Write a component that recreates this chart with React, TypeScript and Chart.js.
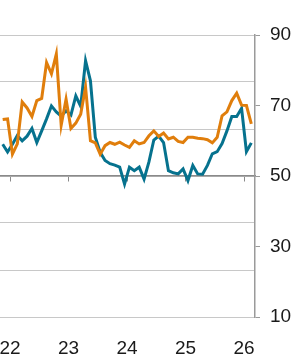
import React, { useEffect, useRef } from "react";
import { Chart, registerables } from "chart.js";

Chart.register(...registerables);

// Monthly series, first point = Nov 2021, last = Feb 2026
const startYear = 2021;
const startMonth = 10; // 0-based month index (November)

const orangeSeries = [
  66, 66.2, 56.2, 59.1, 71, 69.3, 66.9, 71.4, 72, 82.2, 79, 84.6,
  64.4, 71.8, 63.5, 65, 67.5, 75.2, 60, 59.4, 56.2, 58.6, 59.5, 59,
  59.6, 58.8, 58.1, 60, 59.1, 59.5, 61.4, 62.8, 61.2, 62.2, 60.5, 61,
  59.8, 59.5, 61, 61, 60.7, 60.6, 60.3, 59.4, 61, 67.1, 68.2, 71.4,
  73.5, 70.1, 70, 64.8,
];

const tealSeries = [
  59, 56.8, 59, 61.5, 60, 61.3, 63.5, 59.5, 62.8, 66.2, 69.9, 68.2,
  67, 68.5, 67.3, 72.7, 69.8, 82.7, 77, 61, 56.7, 54.4, 53.5, 53.1,
  52.5, 47.7, 52.5, 51.5, 52.5, 49.1, 54, 60.2, 61.3, 59.5, 51.5, 50.9,
  50.6, 52, 48.7, 53, 50.6, 50.5, 53, 56.3, 56.9, 59.2, 62.8, 66.9,
  66.9, 69.2, 56.9, 59.4,
];

const yearTicks = [2022, 2023, 2024, 2025, 2026];
const yLabelTicks = [10, 30, 50, 70, 90];
const gridTicks = [10, 23.333, 36.667, 50, 63.333, 76.667, 90];

const X_MIN = 2021.829;
const X_MAX = 2026.188;

const toX = (i: number) => startYear + (startMonth + i + 0.5) / 12;

export default function App() {
  const ref = useRef<HTMLCanvasElement>(null);

  useEffect(() => {
    if (!ref.current) return;
    const font = { family: "'Liberation Sans', Arial, sans-serif", size: 19 };
    const noPad = (s: any) => {
      s.paddingLeft = 0;
      s.paddingRight = 0;
      s.paddingTop = 0;
      s.paddingBottom = 0;
    };
    const chart = new Chart(ref.current, {
      type: "line",
      data: {
        datasets: [
          {
            data: orangeSeries.map((v, i) => ({ x: toX(i), y: v })),
            borderColor: "#e07e0c",
            borderWidth: 3,
            pointRadius: 0,
            tension: 0,
            xAxisID: "x",
            yAxisID: "y",
          },
          {
            data: tealSeries.map((v, i) => ({ x: toX(i), y: v })),
            borderColor: "#06728e",
            borderWidth: 3,
            pointRadius: 0,
            tension: 0,
            xAxisID: "x",
            yAxisID: "y",
          },
        ],
      },
      options: {
        animation: false,
        responsive: true,
        maintainAspectRatio: false,
        layout: { padding: { top: 35, left: 0, right: 0, bottom: 0 } },
        plugins: { legend: { display: false }, tooltip: { enabled: false } },
        scales: {
          x: {
            type: "linear",
            position: "bottom",
            min: X_MIN,
            max: X_MAX,
            afterBuildTicks: (s: any) => {
              s.ticks = yearTicks.map((v) => ({ value: v }));
            },
            afterFit: (s: any) => {
              s.height = 39;
              noPad(s);
            },
            grid: { display: false },
            border: { display: false },
            ticks: {
              font,
              color: "#1a1a1a",
              padding: 12,
              maxRotation: 0,
              autoSkip: false,
              callback: (v: any) => String(v).slice(2),
            },
          },
          xLine: {
            type: "linear",
            position: { y: 50 } as any,
            min: X_MIN,
            max: X_MAX,
            afterBuildTicks: (s: any) => {
              s.ticks = yearTicks.map((v) => ({ value: v }));
            },
            afterFit: noPad,
            grid: {
              display: true,
              drawOnChartArea: false,
              drawTicks: true,
              tickLength: 5,
              color: "#8a8a8a",
            },
            border: { display: true, color: "#8a8a8a", width: 1.5 },
            ticks: { display: false },
          },
          yGrid: {
            type: "linear",
            position: "left",
            min: 10,
            max: 90,
            afterBuildTicks: (s: any) => {
              s.ticks = gridTicks.map((v) => ({ value: v }));
            },
            afterFit: (s: any) => {
              s.width = 0;
              noPad(s);
            },
            grid: { color: "#c8c8c8", lineWidth: 1, drawTicks: false },
            border: { display: false },
            ticks: { display: false },
          },
          y: {
            type: "linear",
            position: "right",
            min: 10,
            max: 90,
            afterBuildTicks: (s: any) => {
              s.ticks = yLabelTicks.map((v) => ({ value: v }));
            },
            afterFit: (s: any) => {
              s.width = 39;
              noPad(s);
            },
            grid: {
              drawOnChartArea: false,
              drawTicks: true,
              tickLength: 5,
              color: "#9a9a9a",
            },
            border: { display: true, color: "#9a9a9a", width: 1.5 },
            ticks: { font, color: "#1a1a1a", padding: 10 },
          },
        },
      },
    });
    return () => chart.destroy();
  }, []);

  return (
    <div style={{ position: "fixed", left: 0, top: 0, width: 294, height: 356 }}>
      <canvas ref={ref} />
    </div>
  );
}
